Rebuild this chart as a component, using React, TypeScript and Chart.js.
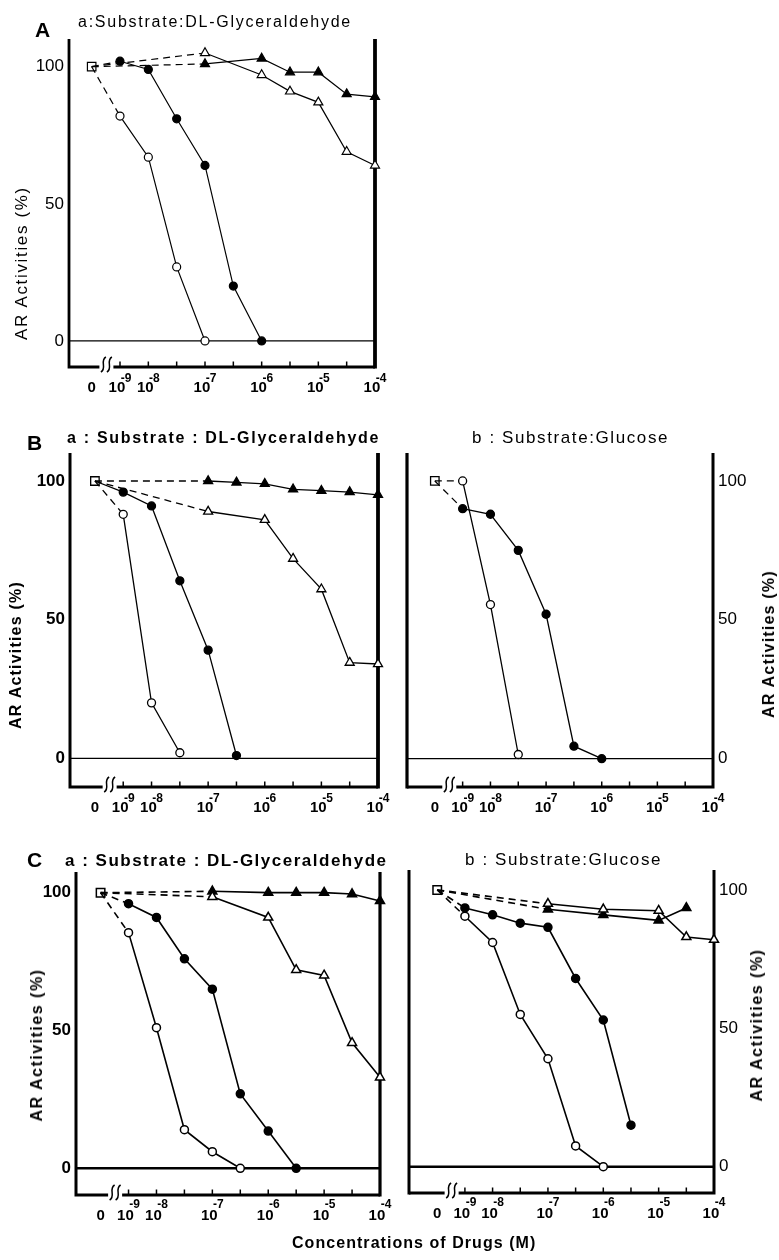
import React, { useEffect, useRef } from "react";
import { Chart, registerables } from "chart.js";

Chart.register(...registerables);

const FONT = '"Liberation Sans", Arial, Helvetica, sans-serif';
const N = null;

// x axis: log10 of drug concentration (M); the control (no drug) sits left of the axis break
const CONC_EXP = [-8.5, -8, -7.5, -7, -6.5, -6, -5.5, -5, -4.5, -4];
const CONTROL_EXP = -9;
const CONTROL_VALUE = 100;
const BREAK_EXP = -8.74;
const X_TICK_EXP = [-9, -8.5, -8, -7.5, -7, -6.5, -6, -5.5, -5, -4.5, -4];
const X_TICK_BASE = ["0", "10", "10", "", "10", "", "10", "", "10", "", "10"];
const X_TICK_POWER = ["", "-9", "-8", "", "-7", "", "-6", "", "-5", "", "-4"];
const Y_TICKS = [0, 50, 100];

// Panel A – substrate DL-glyceraldehyde
const A_OPEN_CIRCLE = [82, 67, 27, 0, N, N, N, N, N, N];
const A_FILLED_CIRCLE = [102, 99, 81, 64, 20, 0, N, N, N, N];
const A_OPEN_TRIANGLE = [N, N, N, 105, N, 97, 91, 87, 69, 64];
const A_FILLED_TRIANGLE = [N, N, N, 101, N, 103, 98, 98, 90, 89];

// Panel B-a – substrate DL-glyceraldehyde
const BA_OPEN_CIRCLE = [88, 20, 2, N, N, N, N, N, N, N];
const BA_FILLED_CIRCLE = [96, 91, 64, 39, 1, N, N, N, N, N];
const BA_OPEN_TRIANGLE = [N, N, N, 89, N, 86, 72, 61, 34.5, 34];
const BA_FILLED_TRIANGLE = [N, N, N, 100, 99.5, 99, 97, 96.5, 96, 95];

// Panel B-b – substrate glucose
const BB_OPEN_CIRCLE = [100, 55.5, 1.5, N, N, N, N, N, N, N];
const BB_FILLED_CIRCLE = [90, 88, 75, 52, 4.5, 0, N, N, N, N];

// Panel C-a – substrate DL-glyceraldehyde
const CA_OPEN_CIRCLE = [85.5, 51, 14, 6, 0, N, N, N, N, N];
const CA_FILLED_CIRCLE = [96, 91, 76, 65, 27, 13.5, 0, N, N, N];
const CA_OPEN_TRIANGLE = [N, N, N, 98.5, N, 91, 72, 70, 45.5, 33];
const CA_FILLED_TRIANGLE = [N, N, N, 100.5, N, 100, 100, 100, 99.5, 97];

// Panel C-b – substrate glucose
const CB_OPEN_CIRCLE = [90.5, 81, 55, 39, 7.5, 0, N, N, N, N];
const CB_FILLED_CIRCLE = [93.5, 91, 88, 86.5, 68, 53, 15, N, N, N];
const CB_OPEN_TRIANGLE = [N, N, N, 95, N, 93, N, 92.5, 83, 82];
const CB_FILLED_TRIANGLE = [N, N, N, 93, N, 91, N, 89, 93.5, N];

const MARKERS: any = {
  openCircle: { style: "circle", radius: 4, fill: "#ffffff" },
  filledCircle: { style: "circle", radius: 4, fill: "#000000" },
  openTriangle: { style: "triangle", radius: 5.2, fill: "#ffffff" },
  filledTriangle: { style: "triangle", radius: 5.2, fill: "#000000" },
};

const PANELS: any[] = [
  {
    id: "A", L: 69, R: 375, T: 39, B: 367, xMin: -9.4, yMin: -9.5, yMax: 110.1, side: "left",
    yBold: false, lineWidth: 1.2, markerBorder: 1.2, zeroWidth: 1.2, frame: 2.8, farFrame: 3.8,
    baseOff: 25, powOff: 15,
    series: [
      { values: A_OPEN_CIRCLE, marker: "openCircle", dash: true },
      { values: A_FILLED_CIRCLE, marker: "filledCircle", dash: true },
      { values: A_OPEN_TRIANGLE, marker: "openTriangle", dash: true },
      { values: A_FILLED_TRIANGLE, marker: "filledTriangle", dash: true },
    ],
  },
  {
    id: "Ba", L: 70, R: 378, T: 453, B: 787, xMin: -9.44, yMin: -10.35, yMax: 110.1, side: "left",
    yBold: true, lineWidth: 1.3, markerBorder: 1.3, zeroWidth: 1.3, frame: 3, farFrame: 3.8,
    baseOff: 25, powOff: 15,
    series: [
      { values: BA_OPEN_CIRCLE, marker: "openCircle", dash: true },
      { values: BA_FILLED_CIRCLE, marker: "filledCircle", dash: false },
      { values: BA_OPEN_TRIANGLE, marker: "openTriangle", dash: true },
      { values: BA_FILLED_TRIANGLE, marker: "filledTriangle", dash: true },
    ],
  },
  {
    id: "Bb", L: 407, R: 713, T: 453, B: 787, xMin: -9.5, yMin: -10.2, yMax: 110.06, side: "right",
    yBold: false, lineWidth: 1.3, markerBorder: 1.3, zeroWidth: 1.3, frame: 3, farFrame: 3.2,
    baseOff: 25, powOff: 15,
    series: [
      { values: BB_OPEN_CIRCLE, marker: "openCircle", dash: true },
      { values: BB_FILLED_CIRCLE, marker: "filledCircle", dash: true },
    ],
  },
  {
    id: "Ca", L: 76, R: 380, T: 872, B: 1195, xMin: -9.44, yMin: -9.7, yMax: 107.5, side: "left",
    yBold: true, lineWidth: 1.6, markerBorder: 1.5, zeroWidth: 2.6, frame: 3, farFrame: 3.2,
    baseOff: 25, powOff: 13,
    series: [
      { values: CA_OPEN_CIRCLE, marker: "openCircle", dash: true },
      { values: CA_FILLED_CIRCLE, marker: "filledCircle", dash: true },
      { values: CA_OPEN_TRIANGLE, marker: "openTriangle", dash: true },
      { values: CA_FILLED_TRIANGLE, marker: "filledTriangle", dash: true },
    ],
  },
  {
    id: "Cb", L: 409, R: 714, T: 870, B: 1193, xMin: -9.51, yMin: -9.5, yMax: 107.2, side: "right",
    yBold: false, lineWidth: 1.6, markerBorder: 1.5, zeroWidth: 2.6, frame: 3, farFrame: 3,
    baseOff: 25, powOff: 13,
    series: [
      { values: CB_OPEN_CIRCLE, marker: "openCircle", dash: true },
      { values: CB_FILLED_CIRCLE, marker: "filledCircle", dash: true },
      { values: CB_OPEN_TRIANGLE, marker: "openTriangle", dash: true },
      { values: CB_FILLED_TRIANGLE, marker: "filledTriangle", dash: true },
    ],
  },
];

const TEXTS = [
  { t: "A", x: 35, base: 37, size: 21, bold: true, ls: 0 },
  { t: "a:Substrate:DL-Glyceraldehyde", x: 78, base: 27.5, size: 16, bold: false, ls: 1.75 },
  { t: "B", x: 27, base: 450, size: 21, bold: true, ls: 0 },
  { t: "a : Substrate : DL-Glyceraldehyde", x: 67, base: 443.5, size: 16, bold: true, ls: 1.7 },
  { t: "b : Substrate:Glucose", x: 472, base: 443, size: 17, bold: false, ls: 1.6 },
  { t: "C", x: 27, base: 867, size: 21, bold: true, ls: 0 },
  { t: "a : Substrate : DL-Glyceraldehyde", x: 65, base: 866, size: 17, bold: true, ls: 1.5 },
  { t: "b : Substrate:Glucose", x: 465, base: 865, size: 17, bold: false, ls: 1.6 },
  { t: "Concentrations of Drugs (M)", x: 292, base: 1249, size: 16, bold: true, ls: 1.05 },
];

const Y_TITLES = [
  { t: "AR Activities (%)", cx: 21, cy: 263, size: 17, bold: false, ls: 1.66 },
  { t: "AR Activities (%)", cx: 16, cy: 655, size: 16, bold: true, ls: 1.2 },
  { t: "AR Activities (%)", cx: 769, cy: 644, size: 16, bold: true, ls: 1.2 },
  { t: "AR Activities (%)", cx: 37, cy: 1045, size: 16, bold: true, ls: 1.5 },
  { t: "AR Activities (%)", cx: 757, cy: 1025, size: 16, bold: true, ls: 1.5 },
];

const W = 779;
const H = 1260;
const WY = 50;
const HX = 40;
const DASH = [7, 5];

function decorPlugin(p: any) {
  return {
    id: "decor" + p.id,
    beforeDatasetsDraw(chart: any) {
      const { ctx, chartArea: a } = chart;
      const x = chart.scales.x;
      const y = chart.scales.y;
      ctx.save();
      ctx.strokeStyle = "#000";
      ctx.lineCap = "butt";
      // zero line
      const y0 = y.getPixelForValue(0);
      ctx.lineWidth = p.zeroWidth;
      ctx.beginPath();
      ctx.moveTo(a.left, y0);
      ctx.lineTo(a.right, y0);
      ctx.stroke();
      // frame (left, bottom, right)
      const nearX = p.side === "left" ? a.left : a.right;
      const farX = p.side === "left" ? a.right : a.left;
      ctx.lineWidth = p.frame;
      ctx.lineJoin = "miter";
      ctx.beginPath();
      ctx.moveTo(nearX, a.top);
      ctx.lineTo(nearX, a.bottom);
      ctx.lineTo(farX, a.bottom);
      ctx.stroke();
      ctx.lineWidth = p.farFrame;
      ctx.beginPath();
      ctx.moveTo(farX, a.top);
      ctx.lineTo(farX, a.bottom + p.frame / 2);
      ctx.stroke();
      // tick marks pointing inward
      ctx.lineWidth = 1.5;
      x.ticks.forEach((t: any) => {
        if (t.value <= CONTROL_EXP) return;
        const px = x.getPixelForValue(t.value);
        ctx.beginPath();
        ctx.moveTo(px, a.bottom);
        ctx.lineTo(px, a.bottom - 5.5);
        ctx.stroke();
      });
      // axis break
      const bx = x.getPixelForValue(BREAK_EXP);
      ctx.fillStyle = "#fff";
      ctx.fillRect(bx - 7, a.bottom - 2.5, 14, 5);
      ctx.lineWidth = 1.5;
      [-3, 3].forEach((d) => {
        ctx.beginPath();
        ctx.moveTo(bx + d + 2.5, a.bottom - 10);
        ctx.bezierCurveTo(bx + d - 4, a.bottom - 6, bx + d + 4, a.bottom + 1, bx + d - 2.5, a.bottom + 5);
        ctx.stroke();
      });
      // tick labels with exponents
      ctx.fillStyle = "#000";
      ctx.textBaseline = "alphabetic";
      ctx.textAlign = "left";
      x.ticks.forEach((t: any, i: number) => {
        const base = X_TICK_BASE[i];
        const pw = X_TICK_POWER[i];
        if (!base) return;
        const baseFont = `bold 15px ${FONT}`;
        const powFont = `bold 12px ${FONT}`;
        ctx.font = baseFont;
        const wb = ctx.measureText(base).width;
        ctx.font = powFont;
        const wp = pw ? ctx.measureText(pw).width : 0;
        const overlap = pw ? 4.5 : 0;
        const total = wb + wp - overlap;
        const px = x.getPixelForValue(t.value);
        const sx = px - total / 2;
        ctx.font = baseFont;
        ctx.fillText(base, sx, a.bottom + p.baseOff);
        if (pw) {
          ctx.font = powFont;
          ctx.fillText(pw, sx + wb - overlap, a.bottom + p.powOff);
        }
      });
      ctx.restore();
    },
  };
}

function buildConfig(p: any): any {
  const datasets: any[] = p.series.map((s: any) => {
    const m = MARKERS[s.marker];
    const pts = CONC_EXP.map((xv, i) => ({ x: xv, y: s.values[i] })).filter((d) => d.y !== null);
    return {
      data: [{ x: CONTROL_EXP, y: CONTROL_VALUE }, ...pts],
      borderColor: "#000",
      borderWidth: p.lineWidth,
      pointStyle: m.style,
      pointRadius: (c: any) => (c.dataIndex === 0 ? 0 : m.radius),
      pointBackgroundColor: m.fill,
      pointBorderColor: "#000",
      pointBorderWidth: p.markerBorder,
      segment: {
        borderDash: (c: any) => (c.p0DataIndex === 0 && s.dash ? DASH : undefined),
      },
      tension: 0,
      fill: false,
      clip: false,
    };
  });
  datasets.push({
    data: [{ x: CONTROL_EXP, y: CONTROL_VALUE }],
    showLine: false,
    pointStyle: "rect",
    pointRadius: 6,
    pointBackgroundColor: "#fff",
    pointBorderColor: "#000",
    pointBorderWidth: p.markerBorder,
    clip: false,
  });
  const padding =
    p.side === "left"
      ? { left: p.L - WY, right: W - p.R, top: p.T, bottom: H - p.B - HX }
      : { left: p.L, right: W - p.R - WY, top: p.T, bottom: H - p.B - HX };
  return {
    type: "line",
    data: { datasets },
    options: {
      responsive: false,
      animation: false,
      devicePixelRatio: 1,
      events: [],
      layout: { padding },
      plugins: { legend: { display: false }, tooltip: { enabled: false }, title: { display: false } },
      scales: {
        x: {
          type: "linear",
          min: p.xMin,
          max: -4,
          afterBuildTicks: (s: any) => {
            s.ticks = X_TICK_EXP.map((v) => ({ value: v }));
          },
          ticks: { display: false },
          grid: { display: false, drawTicks: false },
          border: { display: false },
          afterFit: (s: any) => {
            s.height = HX;
            s.paddingLeft = 0;
            s.paddingRight = 0;
          },
        },
        y: {
          type: "linear",
          position: p.side,
          min: p.yMin,
          max: p.yMax,
          afterBuildTicks: (s: any) => {
            s.ticks = Y_TICKS.map((v) => ({ value: v }));
          },
          ticks: {
            color: "#000",
            padding: 5,
            font: { family: FONT, size: 17, weight: p.yBold ? "bold" : "normal" },
          },
          grid: { display: false, drawTicks: false },
          border: { display: false },
          afterFit: (s: any) => {
            s.width = WY;
            s.paddingTop = 0;
            s.paddingBottom = 0;
          },
        },
      },
    },
    plugins: [decorPlugin(p)],
  };
}

function Panel({ p }: { p: any }) {
  const ref = useRef<HTMLCanvasElement>(null);
  useEffect(() => {
    const chart = new Chart(ref.current as HTMLCanvasElement, buildConfig(p));
    return () => chart.destroy();
  }, [p]);
  return (
    <canvas
      ref={ref}
      width={W}
      height={H}
      style={{ position: "absolute", left: 0, top: 0, width: W, height: H }}
    />
  );
}

export default function App() {
  return (
    <div
      style={{
        position: "absolute",
        left: 0,
        top: 0,
        width: W,
        height: H,
        background: "#fff",
        overflow: "hidden",
        fontFamily: FONT,
        color: "#000",
      }}
    >
      {PANELS.map((p) => (
        <Panel key={p.id} p={p} />
      ))}
      {TEXTS.map((t, i) => (
        <div
          key={"t" + i}
          style={{
            position: "absolute",
            left: t.x,
            top: t.base - 0.8464 * t.size,
            fontSize: t.size,
            lineHeight: `${t.size}px`,
            fontWeight: t.bold ? "bold" : "normal",
            letterSpacing: t.ls,
            whiteSpace: "nowrap",
          }}
        >
          {t.t}
        </div>
      ))}
      {Y_TITLES.map((t, i) => (
        <div
          key={"y" + i}
          style={{
            position: "absolute",
            left: t.cx,
            top: t.cy,
            fontSize: t.size,
            lineHeight: `${t.size}px`,
            fontWeight: t.bold ? "bold" : "normal",
            letterSpacing: t.ls,
            whiteSpace: "nowrap",
            color: "#000",
            transform: "translate(-50%, -50%) rotate(-90deg)",
          }}
        >
          {t.t}
        </div>
      ))}
    </div>
  );
}
